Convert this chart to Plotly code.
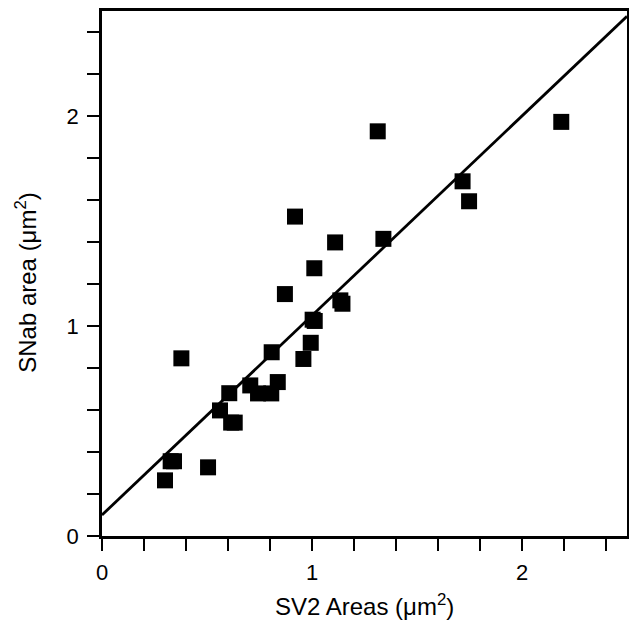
import plotly.graph_objects as go

# Data
sv2_area = [0.300, 0.327, 0.343, 0.505, 0.378, 0.615, 0.632, 0.562, 0.606, 0.706,
            0.743, 0.806, 0.837, 0.808, 0.959, 0.994, 1.003, 1.013, 0.871, 1.011,
            0.919, 1.110, 1.135, 1.145, 1.340, 1.313, 1.717, 1.748, 2.187]
snab_area = [0.265, 0.356, 0.356, 0.327, 0.846, 0.540, 0.540, 0.598, 0.680, 0.717,
             0.679, 0.679, 0.733, 0.875, 0.843, 0.920, 1.030, 1.024, 1.152, 1.275,
             1.521, 1.398, 1.122, 1.106, 1.415, 1.927, 1.689, 1.594, 1.972]

fit_slope = 0.95
fit_intercept = 0.10
fit_x = [0.0, 2.5]

x_title = "SV2 Areas (μm<sup>2</sup>)"
y_title = "SNab area (μm<sup>2</sup>)"

fit_y = [fit_intercept + fit_slope * x for x in fit_x]

fig = go.Figure()
fig.add_trace(go.Scatter(x=fit_x, y=fit_y, mode="lines",
                         line=dict(color="black", width=2.8),
                         showlegend=False, hoverinfo="skip"))
fig.add_trace(go.Scatter(x=sv2_area, y=snab_area, mode="markers",
                         marker=dict(symbol="square", size=16, color="black",
                                     line=dict(width=0)),
                         showlegend=False))

family = "Liberation Sans, Arial, sans-serif"
tick_font = dict(family=family, size=22, color="black")
title_font = dict(family=family, size=24, color="black")

axis_common = dict(
    range=[0, 2.5], dtick=1, tick0=0,
    showgrid=False, zeroline=False, automargin=False,
    showline=True, linecolor="black", linewidth=2.5, mirror=True,
    ticks="outside", ticklen=12, tickwidth=1.5, tickcolor="black",
    minor=dict(dtick=0.2, tick0=0, ticks="outside", ticklen=12, tickwidth=1.5,
               tickcolor="black", showgrid=False),
    tickfont=tick_font,
)

# the page body adds an 8px offset, so margins are shifted to compensate
fig.update_layout(
    width=637, height=620,
    margin=dict(l=94, r=18, t=3, b=92),
    paper_bgcolor="white", plot_bgcolor="white",
    xaxis=dict(axis_common, ticklabelstandoff=3),
    yaxis=dict(axis_common, ticklabelstandoff=4),
    annotations=[
        dict(text=x_title, xref="paper", yref="paper", x=0.5, y=-0.131,
             xanchor="center", yanchor="middle", showarrow=False, font=title_font),
        dict(text=y_title, xref="paper", yref="paper", x=-0.145, y=0.484,
             xanchor="center", yanchor="middle", textangle=-90, showarrow=False,
             font=title_font),
    ],
)

fig.write_html("out.html")
